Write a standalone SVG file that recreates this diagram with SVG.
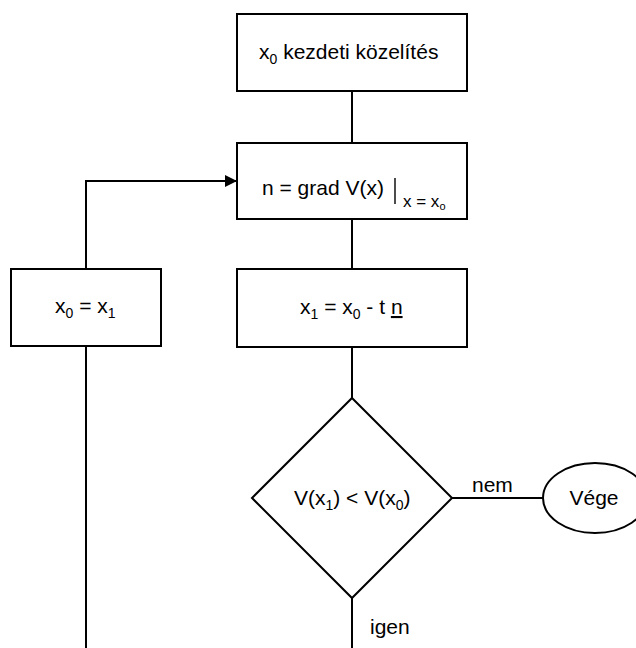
<svg xmlns="http://www.w3.org/2000/svg" width="636" height="648" viewBox="0 0 636 648">
<style>
.box{fill:#fff;stroke:#000;stroke-width:2}
.ln{fill:none;stroke:#000;stroke-width:2}
text{font-family:"Liberation Sans",Arial,sans-serif;font-size:21px;fill:#000}
.sub{font-size:14px}
.sm{font-size:17px}
.tiny{font-size:11px}
</style>
<defs>
<marker id="arr" markerWidth="12" markerHeight="12" refX="12" refY="6" orient="auto" markerUnits="userSpaceOnUse">
<path d="M0,0 L12,6 L0,12 Z" fill="#000"/>
</marker>
</defs>
<rect width="636" height="648" fill="#fff"/>
<g id="connectors">
<line class="ln" x1="352" y1="91" x2="352" y2="143"/>
<line class="ln" x1="352" y1="219" x2="352" y2="269"/>
<line class="ln" x1="352" y1="347" x2="352" y2="398"/>
<line class="ln" x1="352" y1="598" x2="352" y2="648"/>
<line class="ln" x1="452" y1="498" x2="543" y2="498"/>
<line class="ln" x1="86" y1="346" x2="86" y2="648"/>
<polyline class="ln" points="86,269 86,181 237,181" marker-end="url(#arr)"/>
<text x="472" y="492">nem</text>
<text x="370" y="634">igen</text>
</g>
<g id="start">
<rect class="box" x="237" y="14" width="230" height="77"/>
<text x="259" y="59">x<tspan class="sub" dy="5">0</tspan><tspan dy="-5"> kezdeti közelítés</tspan></text>
</g>
<g id="grad">
<rect class="box" x="237" y="143" width="230" height="76"/>
<text x="262" y="195">n = grad V(x)</text>
<line x1="395" y1="178" x2="395" y2="204" stroke="#000" stroke-width="1.4"/>
<text class="sm" x="403" y="207">x = x<tspan class="tiny" dy="3">o</tspan></text>
</g>
<g id="assign">
<rect class="box" x="11" y="269" width="150" height="77"/>
<text x="55" y="313">x<tspan class="sub" dy="5">0</tspan><tspan dy="-5"> = x</tspan><tspan class="sub" dy="5">1</tspan></text>
</g>
<g id="step">
<rect class="box" x="237" y="269" width="230" height="78"/>
<text x="300" y="314">x<tspan class="sub" dy="5">1</tspan><tspan dy="-5"> = x</tspan><tspan class="sub" dy="5">0</tspan><tspan dy="-5"> - t </tspan><tspan text-decoration="underline">n</tspan></text>
</g>
<g id="decision">
<polygon class="box" points="352,398 452,498 352,598 252,498"/>
<text x="294" y="505">V(x<tspan class="sub" dy="5">1</tspan><tspan dy="-5">) &lt; V(x</tspan><tspan class="sub" dy="5">0</tspan><tspan dy="-5">)</tspan></text>
</g>
<g id="end">
<ellipse class="box" cx="595" cy="498" rx="52" ry="35"/>
<text x="594" y="505" text-anchor="middle">Vége</text>
</g>
</svg>
